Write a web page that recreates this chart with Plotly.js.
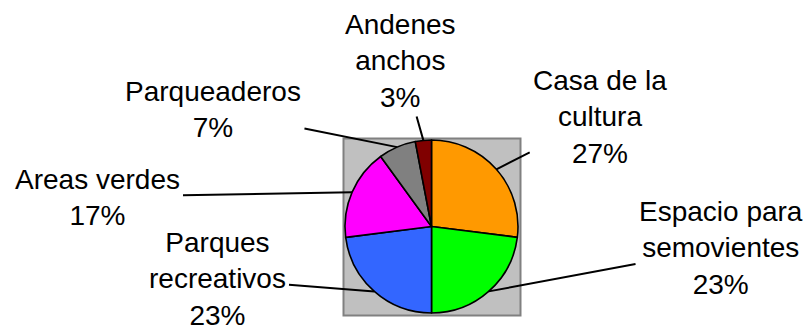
<!DOCTYPE html>
<html>
<head>
<meta charset="utf-8">
<script src="https://cdn.plot.ly/plotly-3.0.1.min.js"></script>
<style>
  html, body { margin: 0; padding: 0; background: #fff; }
  #chart { width: 809px; height: 325px; }
</style>
</head>
<body>
<div id="chart"></div>
<script>
// chart data
const labels = ["Casa de la<br>cultura", "Espacio para<br>semovientes", "Parques<br>recreativos",
                "Areas verdes", "Parqueaderos", "Andenes<br>anchos"];
const values = [27, 23, 23, 17, 7, 3];
const colors = ["#FF9900", "#00FF00", "#3366FF", "#FF00FF", "#808080", "#800000"];

// where each label block sits (pixel centre of the text)
const labelPos = [[600, 117], [721, 248], [217, 279], [97, 197], [213, 110], [401, 61]];

const W = 809, H = 325;
const px = x => x / W;
const py = y => 1 - y / H;

// pie box in pixels
const pieLeft = 345, pieRight = 518, pieTop = 140, pieBottom = 313;
const cx = (pieLeft + pieRight) / 2;
const cy = (pieTop + pieBottom) / 2;
const r = Math.min(pieRight - pieLeft, pieBottom - pieTop) / 2;

const total = values.reduce((a, b) => a + b, 0);
let cum = 0;
const annotations = values.map((v, i) => {
  const mid = (cum + v / 2) / total * 2 * Math.PI;
  cum += v;
  const tipX = cx + r * Math.sin(mid);
  const tipY = cy - r * Math.cos(mid);
  const pct = Math.round(v / total * 100) + "%";
  return {
    x: px(tipX), y: py(tipY), xref: "paper", yref: "paper",
    ax: labelPos[i][0] - tipX, ay: labelPos[i][1] - tipY,
    axref: "pixel", ayref: "pixel",
    text: labels[i] + "<br>" + pct,
    showarrow: true, arrowhead: 0, arrowwidth: 2, arrowcolor: "#000",
    standoff: 0, startstandoff: 2,
    align: "center",
    font: { family: "Liberation Sans, Arial, sans-serif", size: 28, color: "#000" }
  };
});

const trace = {
  type: "pie",
  labels: labels,
  values: values,
  sort: false,
  direction: "clockwise",
  rotation: 0,
  textinfo: "none",
  hoverinfo: "none",
  marker: { colors: colors, line: { color: "#000", width: 1.6 } },
  domain: { x: [px(pieLeft), px(pieRight)], y: [py(pieBottom), py(pieTop)] },
  showlegend: false
};

const layout = {
  width: W,
  height: H,
  margin: { l: 0, r: 0, t: 0, b: 0 },
  paper_bgcolor: "#fff",
  showlegend: false,
  shapes: [{
    type: "rect", xref: "paper", yref: "paper", layer: "below",
    x0: px(343.5), x1: px(520.5), y0: py(315.5), y1: py(138.5),
    fillcolor: "#C0C0C0", line: { color: "#808080", width: 2 }
  }],
  annotations: annotations
};

Plotly.newPlot("chart", [trace], layout, { staticPlot: true });
</script>
</body>
</html>
